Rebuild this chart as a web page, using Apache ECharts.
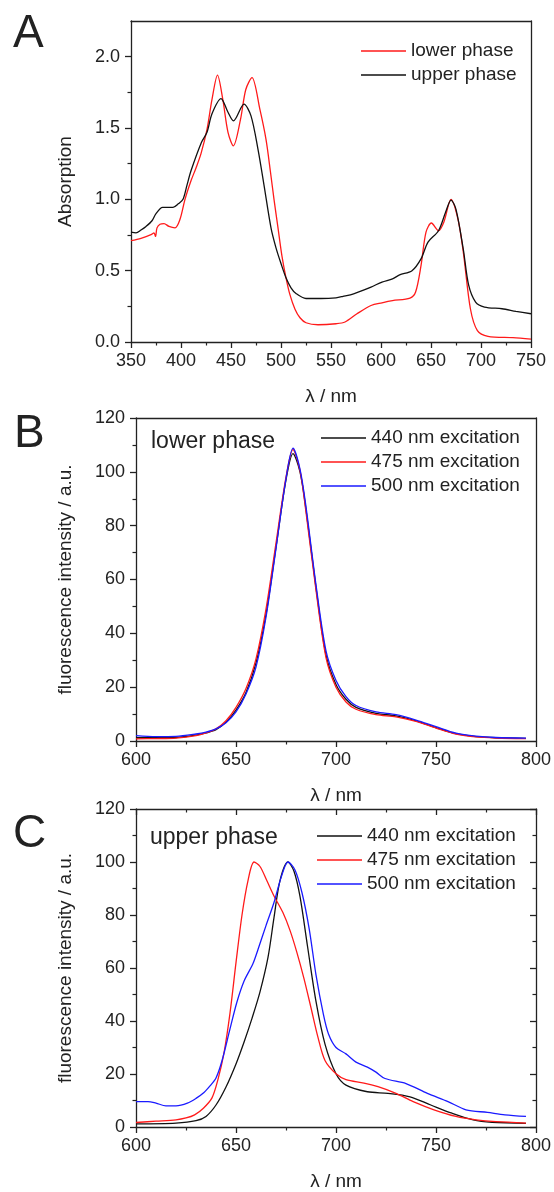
<!DOCTYPE html>
<html>
<head>
<meta charset="utf-8">
<title>Absorption and fluorescence spectra</title>
<script src="https://cdn.jsdelivr.net/npm/echarts@6/dist/echarts.min.js"></script>
<style>
  html, body { margin: 0; padding: 0; background: #fff; }
  #chart { width: 554px; height: 1192px; }
</style>
</head>
<body>
<div id="chart"></div>
<script>
// panel A - absorption spectra
const absLowerX = [350, 360, 370, 373, 374.5, 376, 379, 383, 388, 394, 399, 404, 410, 415, 420, 426, 431, 436.5, 441.8, 447,
  452.4, 459.5, 464.8, 471, 478.9, 485, 489.5, 493, 497, 501, 505, 509, 514, 519, 525, 537, 555, 564, 576, 590,
  601, 611.5, 629, 634.6, 640, 645, 650.4, 657.5, 662.8, 670, 677, 682.3, 689.4, 696.4, 707, 732, 750];
const absLowerY = [0.71, 0.727, 0.752, 0.765, 0.74, 0.80, 0.825, 0.83, 0.81, 0.80, 0.86, 1.0, 1.13, 1.22, 1.32, 1.49, 1.70, 1.87, 1.70, 1.47,
  1.375, 1.56, 1.77, 1.853, 1.63, 1.42, 1.19, 1.0, 0.8, 0.6, 0.45, 0.33, 0.23, 0.17, 0.135, 0.121, 0.128, 0.14, 0.198, 0.256,
  0.275, 0.29, 0.307, 0.35, 0.535, 0.77, 0.834, 0.78, 0.84, 1.0, 0.86, 0.63, 0.233, 0.08, 0.04, 0.03, 0.02];
const absUpperX = [350, 355, 360, 365, 371, 375, 381.6, 392, 397.5, 402, 406, 410, 420.5, 426, 431, 440, 447, 452.4, 463, 470,
  477, 483, 490, 495, 500, 505, 510, 515, 525, 540, 555, 562, 572.6, 590, 601, 611.5, 618.6, 631, 640, 647,
  657.5, 664.6, 670, 675, 682.3, 687.6, 694.6, 703.5, 721, 735, 750];
const absUpperY = [0.77, 0.765, 0.785, 0.81, 0.85, 0.90, 0.944, 0.944, 0.97, 1.0, 1.1, 1.2, 1.40, 1.47, 1.6, 1.706, 1.61, 1.55, 1.667, 1.585,
  1.35, 1.1, 0.8, 0.66, 0.55, 0.45, 0.38, 0.34, 0.305, 0.305, 0.31, 0.32, 0.338, 0.385, 0.42, 0.443, 0.47, 0.50, 0.583, 0.70,
  0.78, 0.91, 0.995, 0.93, 0.65, 0.40, 0.28, 0.245, 0.233, 0.215, 0.198];
const absMajor = [0, 0.5, 1.0, 1.5, 2.0];
const absMinor = [0.25, 0.75, 1.25, 1.75];

// panel B - lower phase fluorescence
const lowX = [600, 610, 620, 630, 635, 640, 645, 650, 655, 660, 665, 670, 675, 678.5, 682, 685, 690, 695, 700, 705,
  710, 720, 730, 740, 750, 760, 770, 780, 795];
const low440 = [1.2, 1.2, 1.3, 2.2, 3.0, 4.2, 7, 11.5, 18, 29, 47, 72, 97, 106.8, 100, 86, 57, 32, 21, 15.5,
  12.5, 10.3, 9.3, 7.5, 5.0, 2.7, 1.6, 1.2, 1.0];
const low475 = [0.8, 0.9, 1.1, 2.0, 3.0, 4.5, 7.5, 12.5, 19.5, 30.5, 49, 73.5, 98, 108.3, 100.5, 85, 56, 31, 20, 14.5,
  11.8, 9.8, 9.0, 7.3, 4.8, 2.6, 1.5, 1.1, 0.9];
const low500 = [2.0, 1.6, 1.7, 2.6, 3.3, 4.5, 6.8, 10.8, 17.5, 27.5, 46, 71.5, 97.5, 108.8, 101, 87, 58, 33.5, 22.5, 16.5,
  13.2, 10.8, 9.8, 7.8, 5.3, 2.9, 1.8, 1.3, 1.1];

// panel C - upper phase fluorescence
const up440X = [600, 620, 630, 635, 640, 645, 650, 654, 658, 662, 666, 669, 672, 676, 679, 682, 685.7, 690, 694.5, 700,
  705, 715.7, 726, 737, 747.4, 758, 768.6, 778, 795];
const up440Y = [1.2, 1.5, 2.4, 4, 8.3, 15.1, 23.8, 32, 41, 51, 64, 79, 93, 100, 96.5, 87, 68.5, 47.4, 31.3, 20.1,
  15.8, 13.3, 12.7, 11.4, 8.3, 5.2, 2.7, 1.8, 1.4];
const up475X = [600, 610, 620, 625, 629.3, 633.7, 638, 641, 644, 647, 650, 653, 656, 659, 662, 665.4, 669, 673.4, 677, 680.4,
  684, 687.5, 691, 694.5, 700, 705, 714, 721, 730, 738.6, 749, 760, 770, 780, 795];
const up475Y = [1.7, 2.2, 2.7, 3.4, 4.6, 7.1, 11, 18, 28, 43, 62, 80, 93, 100, 98.3, 93, 87.2, 81, 74.2, 66,
  56, 45, 33.8, 25.1, 20.1, 17.9, 16.6, 15.2, 12.7, 9.6, 6.5, 4, 2.7, 2.0, 1.5];
const up500X = [600, 606, 610, 615, 620, 625.7, 630, 634, 637, 640, 643, 647, 650.4, 654, 658.4, 661, 665, 669, 672.5, 676,
  679.5, 683, 686.6, 690, 693.7, 696.3, 700, 705, 710, 715.7, 720, 724.5, 735, 745.7, 756, 765, 775.7, 784.5, 795];
const up500Y = [9.6, 9.6, 9.0, 8.0, 8.0, 9.0, 10.8, 13, 15.5, 18.5, 25, 37, 47, 55, 61.5, 67, 76, 84.7, 94, 100,
  97, 88.4, 74.8, 57.4, 42.5, 35, 30, 27.6, 24.5, 22.6, 20.7, 18.3, 16.4, 12.7, 9.6, 6.5, 5.5, 4.6, 4];

const exNames = ["440 nm excitation", "475 nm excitation", "500 nm excitation"];

const font = "'Liberation Sans', Arial, sans-serif";
const ink = "#222";

const pairs = (xs, ys) => xs.map((x, i) => [x, ys[i]]);

// bottom / left axes with labels and outward ticks
const labelAxis = (grid, pos, min, max, interval, name, gap) => ({
  type: "value",
  gridIndex: grid,
  position: pos,
  min: min,
  max: max,
  interval: interval,
  name: name,
  nameLocation: "middle",
  nameGap: gap,
  nameTextStyle: { fontSize: 19, color: ink, fontFamily: font },
  axisLine: { onZero: false, lineStyle: { color: ink, width: 1.3 } },
  axisTick: { length: 6, lineStyle: { color: ink, width: 1.3 } },
  minorTick: { show: true, splitNumber: 2, length: 3.5, lineStyle: { color: ink, width: 1.2 } },
  axisLabel: { fontSize: 18, color: ink, fontFamily: font, margin: pos === "left" ? 11 : 10 },
  splitLine: { show: false },
});

// top / right frame axes, optional inward ticks
const frameAxis = (grid, pos, min, max, interval, ticks) => ({
  type: "value",
  gridIndex: grid,
  position: pos,
  min: min,
  max: max,
  interval: interval,
  axisLine: { onZero: false, lineStyle: { color: ink, width: 1.3 } },
  axisTick: { show: ticks, inside: true, length: 6, lineStyle: { color: ink, width: 1.3 } },
  minorTick: { show: ticks, splitNumber: 2, length: 3.5, lineStyle: { color: ink, width: 1.2 } },
  axisLabel: { show: false },
  splitLine: { show: false },
});

const absLeft = labelAxis(0, "left", 0, 2.25, 0.5, "Absorption", 56);
absLeft.minorTick = { show: false };
absLeft.axisTick.customValues = absMajor;
absLeft.axisLabel.customValues = absMajor;
absLeft.axisLabel.formatter = (v) => v.toFixed(1);

const absMinorAxis = {
  type: "value",
  gridIndex: 0,
  position: "left",
  min: 0,
  max: 2.25,
  axisLine: { show: false, onZero: false },
  axisTick: { customValues: absMinor, length: 3.5, lineStyle: { color: ink, width: 1.2 } },
  axisLabel: { show: false },
  splitLine: { show: false },
};

const line = (name, color, xi, yi, data) => ({
  name: name,
  type: "line",
  xAxisIndex: xi,
  yAxisIndex: yi,
  data: data,
  color: color,
  showSymbol: false,
  symbol: "none",
  smooth: 0.3,
  lineStyle: { color: color, width: 1.3 },
  emphasis: { disabled: true },
});

const legendBase = {
  orient: "vertical",
  icon: "rect",
  itemWidth: 45,
  itemHeight: 1.6,
  itemGap: 0,
  selectedMode: false,
  padding: 0,
  textStyle: { fontSize: 19, color: ink, fontFamily: font, lineHeight: 24 },
};

const chart = echarts.init(document.getElementById("chart"));

chart.setOption({
  animation: false,
  backgroundColor: "#fff",
  textStyle: { fontFamily: font },
  grid: [
    { left: 131, top: 21, width: 400, height: 321 },
    { left: 136, top: 418, width: 400, height: 323 },
    { left: 136, top: 809, width: 400, height: 322 },
  ],
  xAxis: [
    labelAxis(0, "bottom", 350, 750, 50, "λ / nm", 45),
    frameAxis(0, "top", 350, 750, 50, false),
    labelAxis(1, "bottom", 600, 800, 50, "λ / nm", 45),
    frameAxis(1, "top", 600, 800, 50, false),
    labelAxis(2, "bottom", 600, 800, 50, "λ / nm", 45),
    frameAxis(2, "top", 600, 800, 50, true),
  ],
  yAxis: [
    absLeft,
    absMinorAxis,
    frameAxis(0, "right", 0, 2.25, 0.5, false),
    labelAxis(1, "left", 0, 120, 20, "fluorescence intensity / a.u.", 61),
    frameAxis(1, "right", 0, 120, 20, false),
    labelAxis(2, "left", 0, 120, 20, "fluorescence intensity / a.u.", 61),
    frameAxis(2, "right", 0, 120, 20, true),
  ],
  legend: [
    Object.assign({}, legendBase, { data: ["lower phase", "upper phase"], left: 361, top: 39 }),
    Object.assign({}, legendBase, { data: exNames, left: 321, top: 426 }),
    Object.assign({}, legendBase, { data: exNames, left: 317, top: 824 }),
  ],
  graphic: [
    { type: "text", x: 13, y: 34, style: { text: "A", fontSize: 46, fontFamily: font, fill: ink, verticalAlign: "middle" } },
    { type: "text", x: 14, y: 434, style: { text: "B", fontSize: 46, fontFamily: font, fill: ink, verticalAlign: "middle" } },
    { type: "text", x: 13, y: 834, style: { text: "C", fontSize: 46, fontFamily: font, fill: ink, verticalAlign: "middle" } },
    { type: "text", x: 151, y: 442, style: { text: "lower phase", fontSize: 23, fontFamily: font, fill: ink, verticalAlign: "middle" } },
    { type: "text", x: 150, y: 838, style: { text: "upper phase", fontSize: 23, fontFamily: font, fill: ink, verticalAlign: "middle" } },
  ],
  series: [
    line("lower phase", "#ff1a1a", 0, 0, pairs(absLowerX, absLowerY)),
    line("upper phase", "#111111", 0, 0, pairs(absUpperX, absUpperY)),

    line(exNames[0], "#111111", 2, 3, pairs(lowX, low440)),
    line(exNames[1], "#ff1a1a", 2, 3, pairs(lowX, low475)),
    line(exNames[2], "#1a1aff", 2, 3, pairs(lowX, low500)),

    line(exNames[0], "#111111", 4, 5, pairs(up440X, up440Y)),
    line(exNames[1], "#ff1a1a", 4, 5, pairs(up475X, up475Y)),
    line(exNames[2], "#1a1aff", 4, 5, pairs(up500X, up500Y)),
  ],
});
</script>
</body>
</html>
